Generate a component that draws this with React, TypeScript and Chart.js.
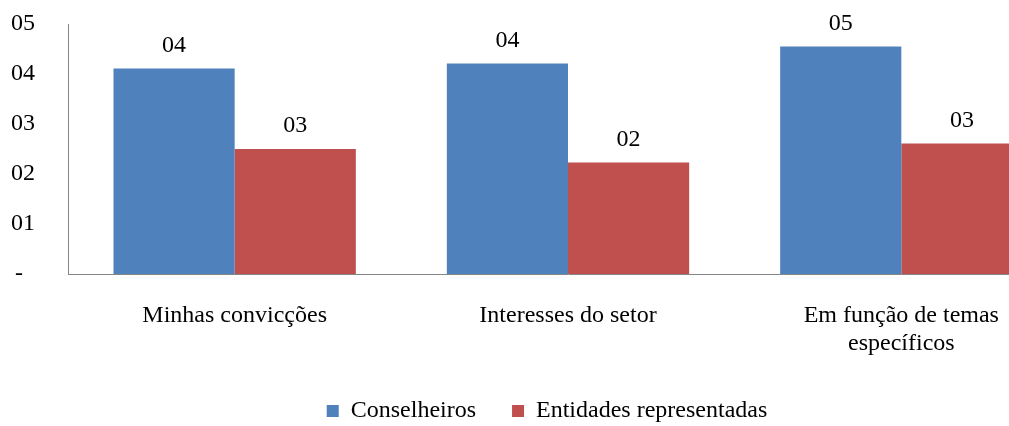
import React, { useEffect, useRef } from "react";
import { Chart, registerables } from "chart.js";

Chart.register(...registerables);

const categories: (string | string[])[] = [
  "Minhas convicções",
  "Interesses do setor",
  ["Em função de temas", "específicos"],
];
const seriesNames = ["Conselheiros", "Entidades representadas"];
const conselheiros = [4.11, 4.21, 4.55];
const entidades = [2.5, 2.23, 2.61];
const yTickLabels = ["-  ", "01", "02", "03", "04", "05"];
const seriesColors = ["#4F81BD", "#C0504D"];

const FONT = '"Liberation Serif", "Times New Roman", serif';
const FONT_SIZE = 24;

const fmtValue = (v: number) => String(Math.round(v)).padStart(2, "0");

const valueLabels = {
  id: "valueLabels",
  afterLayout(chart: any) {
    // nudge the legend block slightly right, as in the reference
    if (chart.legend) {
      chart.legend.left += 9;
      chart.legend.right += 9;
    }
  },
  afterDatasetsDraw(chart: any) {
    const ctx = chart.ctx;
    ctx.save();
    ctx.font = `${FONT_SIZE}px ${FONT}`;
    ctx.fillStyle = "#000000";
    ctx.textAlign = "center";
    ctx.textBaseline = "alphabetic";
    chart.data.datasets.forEach((ds: any, i: number) => {
      const meta = chart.getDatasetMeta(i);
      meta.data.forEach((el: any, j: number) => {
        ctx.fillText(fmtValue(ds.data[j]), el.x, el.y - 17);
      });
    });
    ctx.restore();
  },
};

export default function App() {
  const ref = useRef<HTMLCanvasElement | null>(null);

  useEffect(() => {
    if (!ref.current) return;
    const chart = new Chart(ref.current, {
      type: "bar",
      data: {
        labels: categories,
        datasets: [
          {
            label: seriesNames[0],
            data: conselheiros,
            backgroundColor: seriesColors[0],
            borderWidth: 0,
          },
          {
            label: seriesNames[1],
            data: entidades,
            backgroundColor: seriesColors[1],
            borderWidth: 0,
          },
        ],
      },
      options: {
        animation: false,
        responsive: false,
        maintainAspectRatio: false,
        layout: { padding: { left: 8, right: 7, top: 24, bottom: -7 } },
        datasets: {
          bar: { categoryPercentage: 0.727, barPercentage: 1.0 },
        },
        scales: {
          x: {
            grid: { display: false, drawTicks: false },
            border: { display: true, color: "#868686", width: 1 },
            ticks: {
              color: "#000000",
              font: { family: FONT, size: FONT_SIZE, lineHeight: 1.2 },
              padding: 27,
              maxRotation: 0,
              autoSkip: false,
            },
            afterFit: (scale: any) => {
              scale.height = 89;
              scale.paddingLeft = 0;
              scale.paddingRight = 0;
            },
          },
          y: {
            min: 0,
            max: 5,
            grid: { display: false, drawTicks: false },
            border: { display: true, color: "#868686", width: 1 },
            ticks: {
              stepSize: 1,
              color: "#000000",
              font: { family: FONT, size: FONT_SIZE },
              padding: 33,
              callback: (v: any) => yTickLabels[Math.round(Number(v))] ?? "",
            },
            afterFit: (scale: any) => {
              scale.width = 60;
              scale.paddingTop = 0;
              scale.paddingBottom = 0;
            },
          },
        },
        plugins: {
          legend: {
            position: "bottom",
            labels: {
              color: "#000000",
              font: { family: FONT, size: FONT_SIZE },
              boxWidth: 12,
              boxHeight: 12,
              padding: 36,
            },
          },
          tooltip: { enabled: false },
        },
      },
      plugins: [valueLabels],
    });
    return () => chart.destroy();
  }, []);

  return (
    <div
      style={{
        position: "absolute",
        left: 0,
        top: 0,
        width: 1009,
        height: 426,
        overflow: "hidden",
        background: "#ffffff",
      }}
    >
      <canvas ref={ref} width={1075} height={426} style={{ display: "block" }} />
    </div>
  );
}
